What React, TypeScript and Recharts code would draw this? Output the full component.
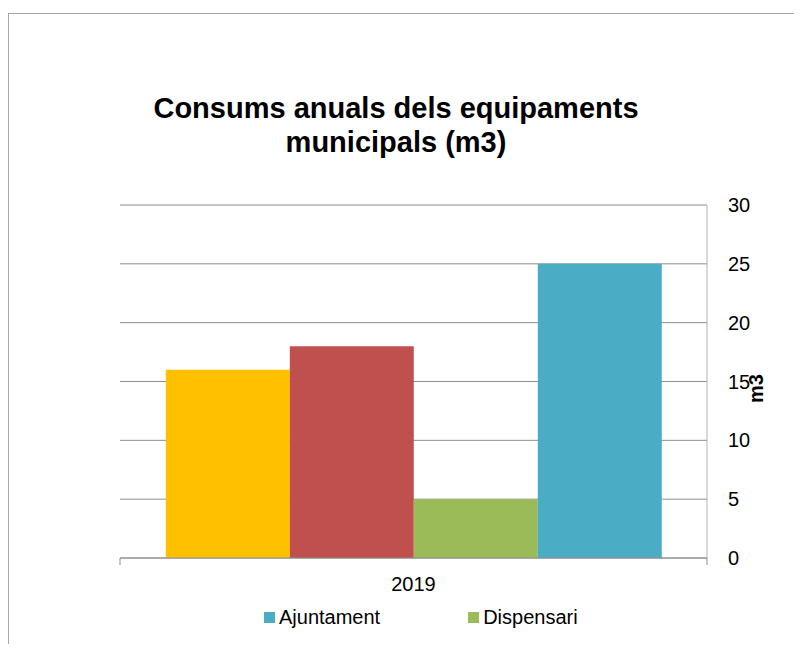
import React from "react";
import { BarChart, Bar, XAxis, YAxis, CartesianGrid, Legend } from "recharts";

const years = ["2019"];
const serie1 = [16];
const serie2 = [18];
const dispensari = [5];
const ajuntament = [25];
const yTicks = [0, 5, 10, 15, 20, 25, 30];
const legendOrder = ["Ajuntament", "Dispensari"];

const data = years.map((y, i) => ({
  year: y,
  s1: serie1[i],
  s2: serie2[i],
  dispensari: dispensari[i],
  ajuntament: ajuntament[i],
}));

const FONT = '"Liberation Sans", Arial, sans-serif';
const AXIS_GREY = "#8e8e8e";

function CategoryTick(props: any) {
  const { x, y, payload, width } = props;
  const half = payload?.offset ?? width / 2;
  const axisY = y - 19;
  return (
    <g>
      <line x1={x - half} x2={x - half} y1={axisY} y2={axisY + 7} stroke={AXIS_GREY} />
      <line x1={x + half} x2={x + half} y1={axisY} y2={axisY + 7} stroke={AXIS_GREY} />
      <text x={x} y={y} dy="0.71em" textAnchor="middle" fontSize={20} fill="#000" fontFamily={FONT}>
        {payload.value}
      </text>
    </g>
  );
}

// only the two named series are listed
function LegendContent({ payload }: any) {
  const items = (payload || [])
    .filter((it: any) => legendOrder.includes(it.value))
    .sort((a: any, b: any) => legendOrder.indexOf(a.value) - legendOrder.indexOf(b.value));
  return (
    <div style={{ display: "flex", alignItems: "center", paddingLeft: 255, height: 23, fontFamily: FONT, fontSize: 20, lineHeight: "23px", whiteSpace: "nowrap" }}>
      {items.map((it: any) => (
        <div key={it.value} style={{ display: "flex", alignItems: "center", marginRight: 88 }}>
          <span style={{ display: "inline-block", width: 11, height: 11, background: it.color, marginRight: 4 }} />
          <span style={{ color: "#000" }}>{it.value}</span>
        </div>
      ))}
    </div>
  );
}

function AxisTitle(p: any) {
  const vb = p.viewBox;
  const cx = vb.x + vb.width / 2 + 19;
  const cy = vb.y + vb.height / 2 + 7;
  return (
    <text
      x={cx}
      y={cy}
      transform={`rotate(-90 ${cx} ${cy})`}
      textAnchor="middle"
      dominantBaseline="central"
      fontSize={20}
      fontWeight="bold"
      fontFamily={FONT}
      fill="#000"
    >
      m3
    </text>
  );
}

export default function App() {
  return (
    <div style={{ paddingTop: 5, width: 794, height: 631, overflow: "hidden" }}>
      <div style={{ position: "relative", width: 800, height: 700, border: "1px solid #a6a6a6", fontFamily: FONT }}>
        <div
          style={{
            position: "absolute",
            left: 0,
            top: 77,
            width: 774,
            textAlign: "center",
            fontSize: 29,
            lineHeight: "34px",
            fontWeight: "bold",
            color: "#000",
          }}
        >
          Consums anuals dels equipaments
          <br />
          municipals (m3)
        </div>
        <BarChart
          width={793}
          height={640}
          data={data}
          margin={{ top: 191, right: 35, bottom: 25, left: 111 }}
          barCategoryGap="7.8%"
          barGap={0}
        >
          <CartesianGrid vertical={false} stroke={AXIS_GREY} />
          <XAxis
            dataKey="year"
            height={48}
            tickLine={false}
            tickSize={0}
            tickMargin={19}
            axisLine={{ stroke: AXIS_GREY }}
            tick={<CategoryTick />}
          />
          <YAxis
            orientation="right"
            width={60}
            domain={[0, 30]}
            ticks={yTicks}
            interval={0}
            tickLine={false}
            tickSize={0}
            tickMargin={21}
            axisLine={{ stroke: "#b3b3b3" }}
            tick={{ fontSize: 20, fill: "#000", fontFamily: FONT }}
            label={{ position: "center", content: AxisTitle }}
          />
          <Legend verticalAlign="bottom" wrapperStyle={{ left: 0, width: 793 }} content={<LegendContent />} />
          <Bar dataKey="s1" name="Sèrie 1" fill="#FFC000" legendType="none" isAnimationActive={false} />
          <Bar dataKey="s2" name="Sèrie 2" fill="#C0504D" legendType="none" isAnimationActive={false} />
          <Bar dataKey="dispensari" name="Dispensari" fill="#9BBB59" isAnimationActive={false} />
          <Bar dataKey="ajuntament" name="Ajuntament" fill="#4BACC6" isAnimationActive={false} />
        </BarChart>
      </div>
    </div>
  );
}
